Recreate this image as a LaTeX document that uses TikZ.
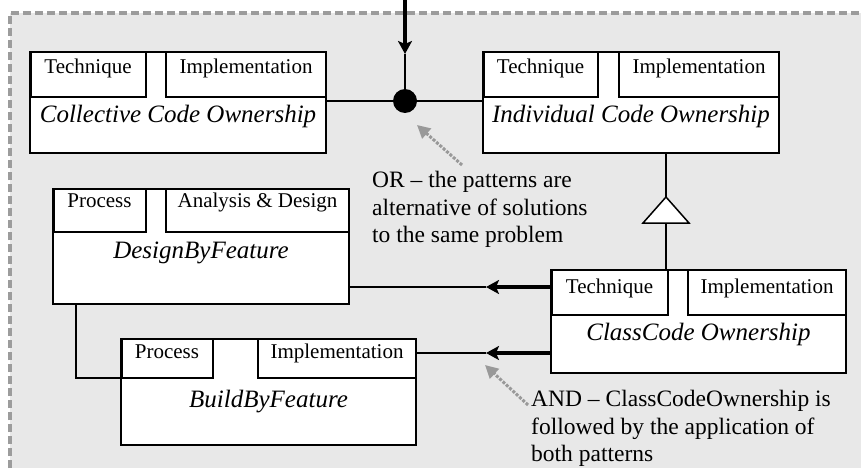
\documentclass[tikz,border=0pt]{standalone}
\usepackage{fontspec}
\setmainfont{Liberation Serif}
\usetikzlibrary{arrows.meta,fit,calc}

\definecolor{panel}{HTML}{E8E8E8}
\definecolor{frame}{HTML}{9C9C9C}
\definecolor{hint}{HTML}{999999}

\tikzset{
  pbox/.style={draw=black, fill=white, line width=1.4pt, inner sep=0pt, outer sep=0pt},
  tabbox/.style={draw=black, fill=white, line width=1.4pt, inner sep=0pt, outer sep=0pt},
  tablabel/.style={font=\fontsize{21}{23}\selectfont, inner sep=0pt, anchor=base},
  titlelabel/.style={font=\fontsize{25}{28}\selectfont\itshape, inner sep=0pt, anchor=base},
  note/.style={font=\fontsize{23.5}{27.5}\selectfont, align=left, inner sep=0pt, anchor=north west},
  wire/.style={draw=black, line width=1.5pt},
  heavy/.style={draw=black, line width=4pt},
  headtip/.style={-{Stealth[length=13pt,width=14pt,inset=3pt]}},
  hintarrow/.style={draw=hint, line width=3pt, dash pattern=on 3pt off 1.5pt,
    -{Triangle[length=13pt,width=13pt,fill=hint]}},
}

% pattern box: name, left, top, right, bottom, first tab right, second tab left, header bottom
\newcommand{\patternbox}[8]{%
  \node[pbox, fit={(#2,#3) (#4,#5)}] (#1) {};
  \node[tabbox, fit={(#2,#3) (#6,#8)}] (#1-a) {};
  \node[tabbox, fit={(#7,#3) (#4,#8)}] (#1-b) {};
  \draw[line width=3pt] (#1-a.north west) -- (#1-a.south west);
}
% labels: name, first tab, second tab, title, tab baseline offset, title baseline offset
\newcommand{\patternlabels}[6]{%
  \node[tablabel] (#1-la) at ($(#1-a.north)+(0,#5)$) {#2};
  \node[tablabel] (#1-lb) at ($(#1-b.north)+(0,#5)$) {#3};
  \node[titlelabel] (#1-t) at ($(#1.north)+(0,#6)$) {#4};
}

\begin{document}
\begin{tikzpicture}[x=1pt, y=-1pt]
  \useasboundingbox (0,0) rectangle (861,468);

  % grey panel with dashed frame
  \fill[panel] (10,13) rectangle (861,468);
  \draw[frame, line width=3.5pt, dash pattern=on 8pt off 4pt] (10,468) -- (10,13) -- (861,13);

  % pattern boxes
  \patternbox{cco}{30}{52}{326}{153}{146}{166}{97}
  \patternbox{ico}{483}{52}{779}{153}{598}{619}{97}
  \patternbox{dbf}{53}{189}{349}{304}{146}{166}{232}
  \patternbox{cls}{551}{270}{846}{373}{668}{688}{315}
  \patternbox{bbf}{121}{339}{416}{445}{213}{258}{378}

  \patternlabels{cco}{Technique}{Implementation}{Collective Code Ownership}{22}{70}
  \patternlabels{ico}{Technique}{Implementation}{Individual Code Ownership}{22}{70}
  \patternlabels{dbf}{Process}{Analysis \& Design}{DesignByFeature}{18}{69}
  \patternlabels{cls}{Technique}{Implementation}{ClassCode Ownership}{23}{70}
  \patternlabels{bbf}{Process}{Implementation}{BuildByFeature}{19}{68}

  % OR junction
  \node[circle, fill=black, minimum size=24pt, inner sep=0pt] (or) at (405,101) {};
  \draw[wire] (cco.east |- or) -- (or) -- (ico.west |- or);
  \coordinate (feed) at (405,0);
  \coordinate (feedtip) at (405,54);
  \draw[heavy, headtip] (feed) -- (feedtip);
  \draw[wire] (feedtip) -- (or);

  % specialisation triangle
  \coordinate (apex) at (666,197);
  \coordinate (tribase) at (666,223);
  \draw[wire] (ico.south -| apex) -- (apex);
  \draw[wire, fill=white, line join=miter] (apex) -- ++(-23,26) -- ++(46,0) -- cycle;
  \draw[wire] (tribase) -- (cls.north -| tribase);

  % AND junction
  \coordinate (j1) at (486,287);
  \coordinate (j2) at (486,353);
  \draw[heavy, headtip] (cls.west |- j1) -- (j1);
  \draw[wire] (j1) -- (dbf.east |- j1);
  \draw[heavy, headtip] (cls.west |- j2) -- (j2);
  \draw[wire] (j2) -- (bbf.east |- j2);
  \draw[wire] ($(dbf.south west)+(23,0)$) |- (bbf-a.south west);

  % notes
  \node[note] (ornote) at (372,171) {OR – the patterns are\\alternative of solutions\\to the same problem};
  \node[note] (andnote) at (531,390) {AND – ClassCodeOwnership is\\followed by the application of\\both patterns};

  \coordinate (orfrom) at (462,165);
  \coordinate (orto) at (417,125);
  \draw[hintarrow] (orfrom) -- (orto);
  \coordinate (andfrom) at (528,405);
  \coordinate (andto) at (485,365);
  \draw[hintarrow] (andfrom) -- (andto);
\end{tikzpicture}
\end{document}
